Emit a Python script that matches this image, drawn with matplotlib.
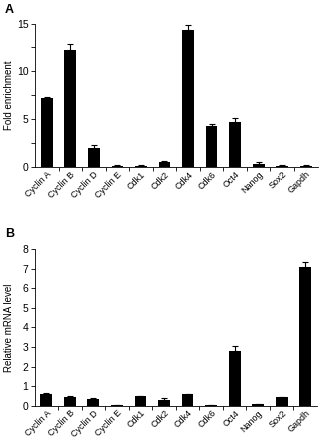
import numpy as np
import matplotlib
matplotlib.use("Agg")
import matplotlib.pyplot as plt
from matplotlib.ticker import MultipleLocator, FixedLocator

genes = ["Cyclin A", "Cyclin B", "Cyclin D", "Cyclin E", "Cdk1", "Cdk2",
         "Cdk4", "Cdk6", "Oct4", "Nanog", "Sox2", "Gapdh"]

# Panel A: ChIP fold enrichment
fold = [7.2, 12.2, 2.0, 0.1, 0.15, 0.5, 14.3, 4.3, 4.7, 0.35, 0.15, 0.15]
fold_err = [0.15, 0.7, 0.3, 0.1, 0.05, 0.15, 0.5, 0.2, 0.4, 0.2, 0.05, 0.1]

# Panel B: relative mRNA level
mrna = [0.6, 0.45, 0.35, 0.01, 0.48, 0.28, 0.58, 0.02, 2.78, 0.08, 0.42, 7.08]
mrna_err = [0.05, 0.03, 0.02, 0.0, 0.03, 0.1, 0.04, 0.0, 0.25, 0.01, 0.03, 0.25]

plt.rcParams["font.family"] = ["Liberation Sans", "DejaVu Sans"]
plt.rcParams["font.size"] = 7

fig = plt.figure(figsize=(3.24, 4.4), dpi=100)
ax_a = fig.add_axes([0.108, 0.6205, 0.872, 0.326])
ax_b = fig.add_axes([0.1065, 0.078, 0.872, 0.356])

x = np.arange(len(genes))


def draw_panel(ax, vals, errs, ylim, major, minor, ylabel):
    ax.bar(x, vals, width=0.5, color="black", zorder=2)
    ax.errorbar(x, vals, yerr=[np.zeros(len(errs)), errs], fmt="none",
                ecolor="black", elinewidth=0.8, capsize=2, capthick=0.8)
    ax.set_xlim(-0.5, len(genes) - 0.5)
    ax.set_ylim(*ylim)
    ax.yaxis.set_major_locator(MultipleLocator(major))
    if minor:
        ax.yaxis.set_minor_locator(MultipleLocator(minor))
    ax.set_xticks(x)
    ax.set_xticklabels(genes, rotation=45, ha="right", rotation_mode="anchor",
                       fontsize=6.5)
    ax.xaxis.set_minor_locator(FixedLocator(x[:-1] + 0.5))
    ax.tick_params(axis="x", which="major", length=0, pad=2)
    ax.tick_params(axis="x", which="minor", length=3, width=0.6)
    ax.tick_params(axis="y", which="both", length=3, width=0.6, labelsize=7.5,
                   pad=1.5)
    ax.set_ylabel(ylabel, fontsize=7)
    ax.yaxis.set_label_coords(-0.074, 0.5)
    for s in ["top", "right"]:
        ax.spines[s].set_visible(False)
    for s in ["left", "bottom"]:
        ax.spines[s].set_linewidth(0.6)


draw_panel(ax_a, fold, fold_err, (0, 15), 5, 2.5, "Fold enrichment")
draw_panel(ax_b, mrna, mrna_err, (0, 8), 1, None, "Relative mRNA level")

fig.text(0.015, 0.992, "A", fontsize=9, fontweight="bold", va="top")
fig.text(0.015, 0.482, "B", fontsize=9, fontweight="bold", va="top")

fig.savefig("out.png", dpi=100)
